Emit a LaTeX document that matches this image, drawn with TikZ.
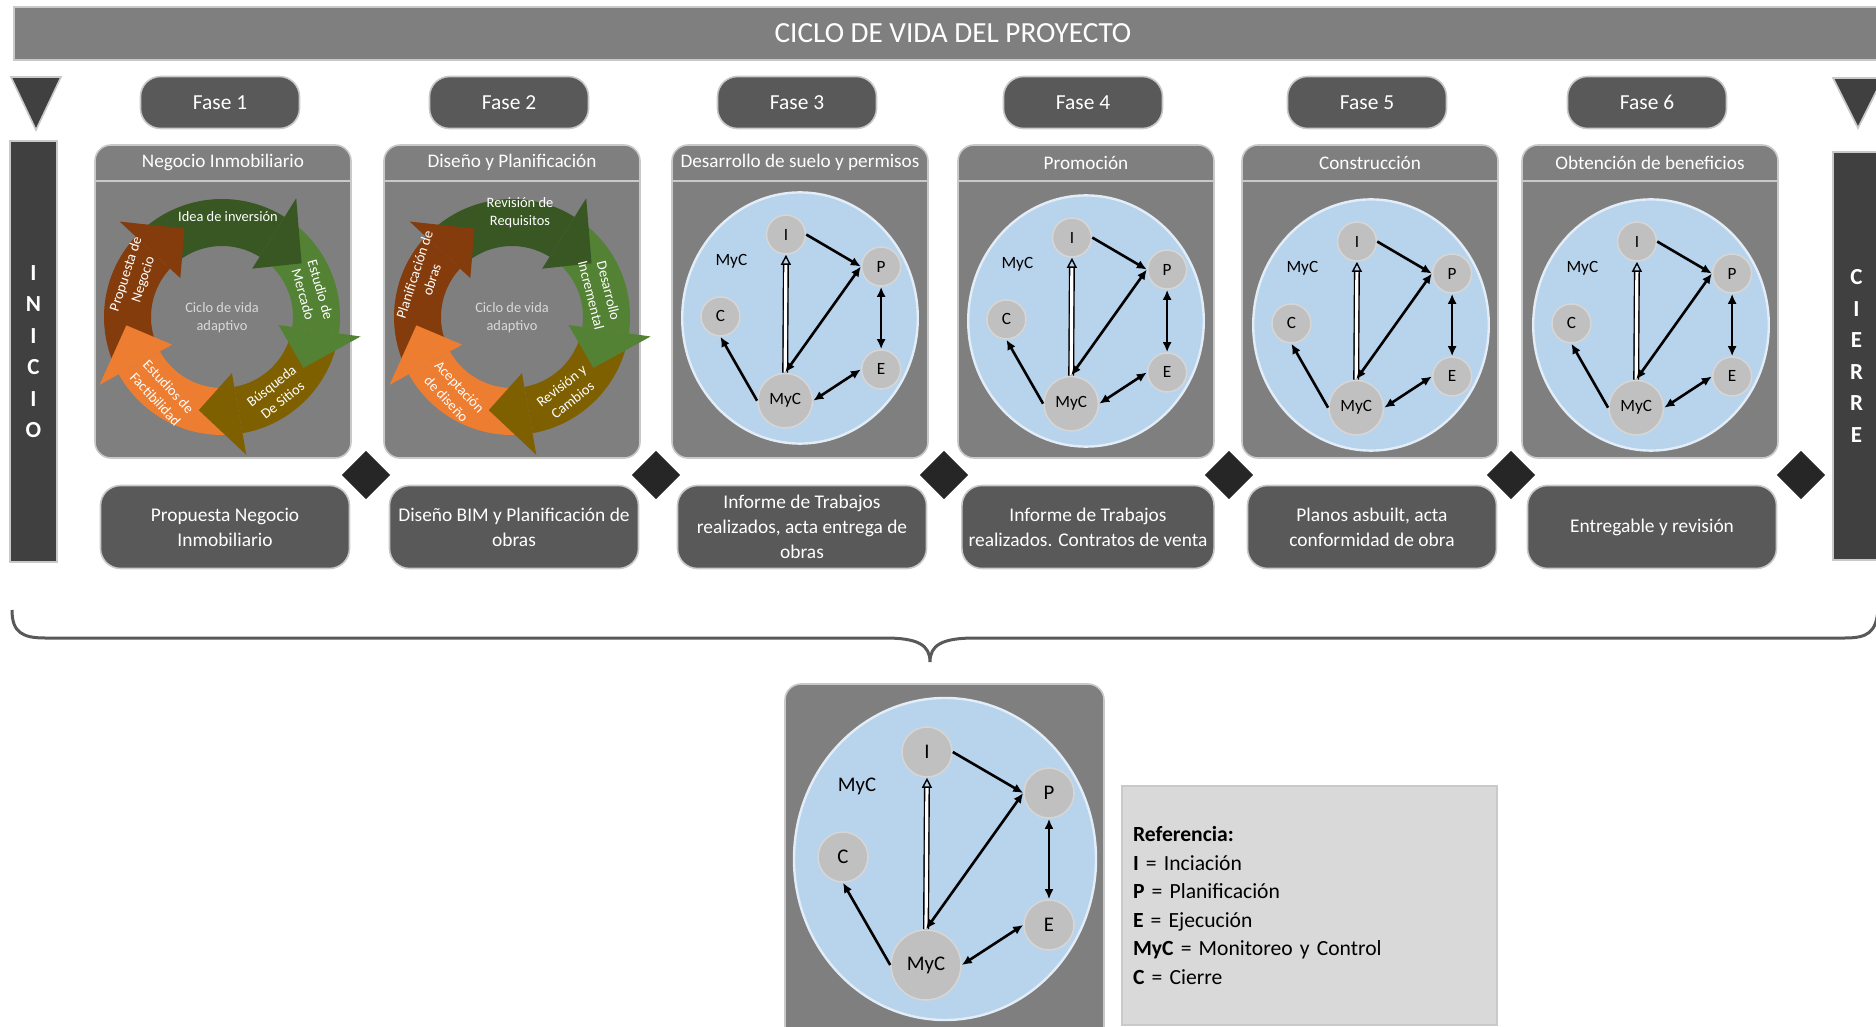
\documentclass[tikz,border=0pt]{standalone}
\usepackage{fontspec}
\setmainfont{Carlito}
\usetikzlibrary{arrows.meta}
\definecolor{grisA}{HTML}{7F7F7F}
\definecolor{grisB}{HTML}{595959}
\definecolor{grisC}{HTML}{404040}
\definecolor{grisD}{HTML}{262626}
\definecolor{borde}{HTML}{C9C9C9}
\definecolor{cicloA}{HTML}{385723}
\definecolor{cicloB}{HTML}{548235}
\definecolor{cicloC}{HTML}{7F6000}
\definecolor{cicloD}{HTML}{ED7D31}
\definecolor{cicloE}{HTML}{843C0C}
\definecolor{azul}{HTML}{B8D3EC}
\definecolor{azulborde}{HTML}{E3EDF7}
\definecolor{grisnodo}{HTML}{C0C0C0}
\definecolor{grisnodoborde}{HTML}{D6D6D6}
\definecolor{grisleyenda}{HTML}{D9D9D9}
\tikzset{
        cabecera/.style={rectangle,fill=grisA,draw=borde,line width=.8pt,text=white,font=\fontsize{14.6}{16}\selectfont},
        lateral/.style={rectangle,fill=grisC,draw=borde,line width=.8pt,minimum width=23.5pt,text=white,align=center,font=\bfseries\fontsize{11.5}{15.75}\selectfont},
        triangulo/.style={fill=grisC,draw=borde,line width=.8pt},
        fase/.style={rectangle,rounded corners=10pt,fill=grisB,draw=borde,line width=.8pt,minimum width=79.5pt,minimum height=26pt,text=white,font=\fontsize{10.7}{12}\selectfont},
        panel/.style={rectangle,rounded corners=8pt,fill=grisA,draw=borde,line width=.8pt,minimum width=128pt,minimum height=156.5pt},
        separador/.style={draw=borde,line width=1pt},
        titulo/.style={text=white,font=\fontsize{9.6}{11}\selectfont},
        entregable/.style={rectangle,rounded corners=10pt,fill=grisB,draw=borde,line width=.8pt,minimum width=124.5pt,minimum height=41.5pt,text=white,align=center,font=\fontsize{9.7}{12.5}\selectfont},
        rombo/.style={rectangle,rotate=45,fill=grisD,minimum size=17pt,inner sep=0pt},
        llave/.style={draw=grisB,line width=1.5pt},
        ciclo/.style={text=white,align=center,inner sep=0pt,font=\fontsize{7.2}{9}\selectfont},
        centro/.style={text=grisleyenda,align=center,inner sep=0pt,font=\fontsize{7.2}{9}\selectfont},
        fondo/.style={fill=azul,draw=azulborde,line width=1.2pt},
        nodo/.style={circle,fill=grisnodo,draw=grisnodoborde,line width=.8pt,inner sep=0pt},
        flecha/.style={line width=1.3pt,-{Latex[length=5pt,width=4.5pt]}},
        dflecha/.style={line width=1.3pt,{Latex[length=5pt,width=4.5pt]}-{Latex[length=5pt,width=4.5pt]}},
        hueca/.style={double=white,double distance=1.6pt,line width=.7pt,-{Triangle[open,length=5pt,width=5pt]}},
        leyenda/.style={rectangle,fill=grisleyenda,draw=borde,line width=.8pt,minimum height=119.5pt,text width=176.5pt,inner xsep=5.5pt,align=left,font=\fontsize{10.8}{14.25}\selectfont}
    }
\begin{document}
\begin{tikzpicture}[x=.5pt,y=-.5pt]
\useasboundingbox (0,0) rectangle (1876,1027);
\clip (0,0) rectangle (1876,1027);

\draw (953,33.5) node(CICLO)[cabecera,minimum width=939pt,minimum height=26.5pt]{CICLO DE VIDA DEL PROYECTO};

\draw[triangulo] (11,77) -- (61,77) -- (36,130) -- cycle;
\draw[triangulo] (1833,78) -- (1883,78) -- (1858,128) -- cycle;
\draw (33.5,351.5) node(INICIO)[lateral,minimum height=210.5pt]{I\\N\\I\\C\\I\\O};
\draw (1856.5,356) node(CIERRE)[lateral,minimum height=204pt]{C\\I\\E\\R\\R\\E};

\foreach \cx/\n/\tit/\ent in {223/1/{Negocio Inmobiliario}/{Propuesta Negocio\\Inmobiliario},
        512/2/{Diseño y Planificación}/{Diseño BIM y Planificación de\\obras},
        800/3/{Desarrollo de suelo y permisos}/{Informe de Trabajos\\realizados, acta entrega de\\obras},
        1086/4/{Promoción}/{Informe de Trabajos\\realizados. Contratos de venta},
        1370/5/{Construcción}/{Planos asbuilt, acta\\conformidad de obra},
        1650/6/{Obtención de beneficios}/{Entregable y revisión}}{
  \draw (\cx-3,102.5) node(FASE\n)[fase]{Fase \n};
  \draw (\cx,301.5) node(PANEL\n)[panel]{};
  \draw[separador] ([yshift=-18.5pt]PANEL\n.north west) -- ([yshift=-18.5pt]PANEL\n.north east);
  \draw ([yshift=-9.3pt]PANEL\n.north) node(TIT\n)[titulo]{\tit};
  \draw (\cx+2,527) node(ENT\n)[entregable]{\ent};
}

\foreach \dx [count=\i] in {366,656,944,1229,1511,1801}
  \draw (\dx,475) node(ROMBO\i)[rombo]{};

\draw[llave] (12,610) .. controls (12,632) and (22,638) .. (45,638) -- (885,638)
  .. controls (918,638) and (930,645) .. (930,662) .. controls (930,645) and (942,638) .. (975,638)
  -- (1845,638) .. controls (1868,638) and (1876,632) .. (1878,610);

\foreach \cx in {222,512}{
  \begin{scope}[shift={(\cx,317)},yscale=-1]
  \foreach \a/\b/\col in {129/58/cicloA,50/-8/cicloB,-16/-80/cicloC,-88/-151/cicloD,-159/-223/cicloE}
    \fill[\col] (\a:71) arc[start angle=\a,end angle=\b,radius=71] -- (\b:118) arc[start angle=\b,end angle=\a,radius=118] -- cycle;
  \foreach \a/\b/\col in {129/58/cicloA,50/-8/cicloB,-16/-80/cicloC,-88/-151/cicloD,-159/-223/cicloE}
    \fill[\col] (\b:57) -- (\b:140) -- ({\b-24}:96) -- cycle;
  \end{scope}
}

\draw (228,217) node(CA1)[ciclo]{Idea de inversión};
\draw (312,292) node(CB1)[ciclo,rotate=-74]{Estudio de\\Mercado};
\draw (277,393) node(CC1)[ciclo,rotate=38]{Búsqueda\\De Sitios};
\draw (162,393) node(CD1)[ciclo,rotate=-47]{Estudios de\\Factibilidad};
\draw (135,277) node(CE1)[ciclo,rotate=72]{Propuesta de\\Negocio};
\draw (222,318) node(CENTRO1)[centro]{Ciclo de vida\\adaptivo};

\draw (520,213) node(CA2)[ciclo]{Revisión de\\Requisitos};
\draw (600,293) node(CB2)[ciclo,rotate=-76]{Desarrollo\\Incremental};
\draw (567,393) node(CC2)[ciclo,rotate=38]{Revisión y\\Cambios};
\draw (453,393) node(CD2)[ciclo,rotate=-47]{Aceptación\\de diseño};
\draw (423,277) node(CE2)[ciclo,rotate=72]{Planificación de\\obras};
\draw (512,318) node(CENTRO2)[centro]{Ciclo de vida\\adaptivo};

\draw (944.5,864.5) node(PANELG)[panel,minimum width=159.5pt,minimum height=180.5pt]{};

\foreach \cx/\cy/\sc/\fs/\n in {800/318/.78/8.6/3,1086/321/.78/8.6/4,1371/325/.78/8.6/5,1651/325/.78/8.6/6,945/859/1/10.4/G}{
  \begin{scope}[shift={(\cx,\cy)},scale=\sc]
  \draw[fondo] (0,0) ellipse[x radius=151,y radius=161];
  \draw (-18,-107) node(I\n)[nodo,minimum size=\sc*25pt,font=\fontsize{\fs}{\fs}\selectfont]{I};
  \draw (104,-66) node(P\n)[nodo,minimum size=\sc*25pt,font=\fontsize{\fs}{\fs}\selectfont]{P};
  \draw (-102,-2) node(C\n)[nodo,minimum size=\sc*25pt,font=\fontsize{\fs}{\fs}\selectfont]{C};
  \draw (104,66) node(E\n)[nodo,minimum size=\sc*25pt,font=\fontsize{\fs}{\fs}\selectfont]{E};
  \draw (-19,106) node(M\n)[nodo,minimum size=\sc*35pt,font=\fontsize{\fs}{\fs}\selectfont]{MyC};
  \draw (-88,-73) node(L\n)[font=\fontsize{\fs}{\fs}\selectfont]{MyC};
  \draw[flecha] (I\n.east) -- (P\n.west);
  \draw[hueca] (M\n.north) -- (I\n.south);
  \draw[dflecha] (M\n.north) -- (P\n.west);
  \draw[dflecha] (P\n.south) -- (E\n.north);
  \draw[dflecha] (M\n.east) -- (E\n.west);
  \draw[flecha] (M\n.west) -- (C\n.south);
  \end{scope}
}

\draw (1309.5,905.5) node(REF)[leyenda]{\textbf{Referencia:}\\\textbf{I} = Inciación\\\textbf{P} = Planificación\\\textbf{E} = Ejecución\\\textbf{MyC} = Monitoreo y Control\\\textbf{C} = Cierre};

\end{tikzpicture}
\end{document}
